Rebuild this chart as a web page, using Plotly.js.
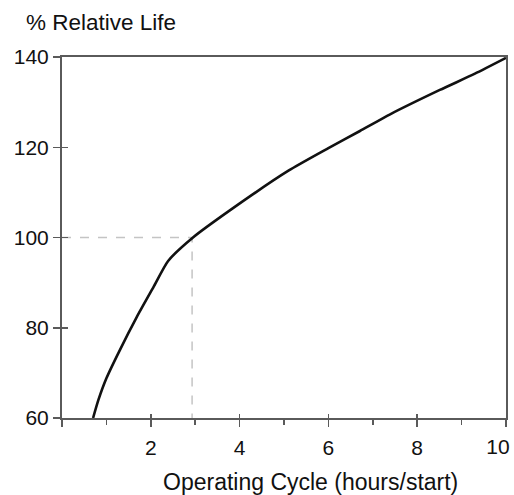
<!DOCTYPE html>
<html>
<head>
<meta charset="utf-8">
<script src="https://cdn.plot.ly/plotly-3.0.1.min.js"></script>
<style>html,body{margin:0;padding:0;background:#fff;}</style>
</head>
<body>
<div id="chart" style="width:514px;height:495px;"></div>
<script>
// Curve: operating cycle (hours/start) vs % relative life
const cycleHours = [0.70, 0.82, 1.00, 1.30, 1.68, 2.06, 2.39, 2.95, 3.78, 5.10, 6.00, 6.71, 7.39, 8.51, 9.30, 10.0];
const relativeLife = [60, 64.0, 68.8, 75.0, 82.3, 89.0, 94.8, 100, 106.0, 114.8, 119.8, 123.6, 127.3, 132.7, 136.3, 139.8];
// Reference (dashed) lines
const refX = [0, 2.93, 2.93];
const refY = [100, 100, 60];
const xTickVals = [0, 2, 4, 6, 8, 10];
const xTickText = ["", "2", "4", "6", "8", "10"];
const xMinorVals = [1, 3, 5, 7, 9];
const yTickVals = [60, 80, 100, 120, 140];
const yTickText = ["60", "80", "100", "120", "140"];

const FONT = "Liberation Sans, Arial, Helvetica, sans-serif";
const AXC = "#5a5a5a";
const last = xTickVals.length - 1;
// main axis shows all tick marks; the edge label is drawn by an overlay axis nudged inward
const mainText = xTickText.map((t, i) => i === last ? "" : t);

const traces = [
  {x: refX, y: refY, mode: "lines", line: {color: "#c4c4c4", width: 1.5, dash: "dash"}, hoverinfo: "skip", showlegend: false},
  {x: cycleHours, y: relativeLife, mode: "lines", line: {color: "#111", width: 2.6, shape: "spline", smoothing: 0.6}, showlegend: false},
  {x: [xTickVals[0]], y: [yTickVals[0]], xaxis: "x2", yaxis: "y2", mode: "markers", marker: {opacity: 0}, hoverinfo: "skip", showlegend: false},
  {x: [xTickVals[0]], y: [yTickVals[0]], xaxis: "x3", yaxis: "y2", mode: "markers", marker: {opacity: 0}, hoverinfo: "skip", showlegend: false}
];

const layout = {
  width: 514, height: 495,
  margin: {l: 62, r: 8, t: 57, b: 77},
  paper_bgcolor: "#fff", plot_bgcolor: "#fff",
  font: {family: FONT, size: 21, color: "#111"},
  showlegend: false,
  xaxis: {
    range: [0, 10], tickvals: xTickVals, ticktext: mainText,
    ticks: "outside", ticklen: 7, tickwidth: 1.5, tickcolor: AXC,
    minor: {tickvals: xMinorVals, ticks: "outside", ticklen: 5, tickwidth: 1.5, tickcolor: AXC},
    showline: true, linecolor: AXC, linewidth: 2, mirror: true,
    showgrid: false, zeroline: false, ticklabelstandoff: 3,
    tickfont: {family: FONT, size: 21, color: "#111"}
  },
  yaxis: {
    range: [60, 140], tickvals: yTickVals, ticktext: yTickText,
    ticks: "outside", ticklen: 7, tickwidth: 1.5, tickcolor: AXC,
    showline: true, linecolor: AXC, linewidth: 2, mirror: true,
    showgrid: false, zeroline: false, ticklabelstandoff: 0, ticklabeloverflow: "allow",
    tickfont: {family: FONT, size: 21, color: "#111"}
  },
  xaxis2: {
    overlaying: "x", range: [0, 10], tickvals: xTickVals, showticklabels: false,
    ticks: "inside", ticklen: 4, tickwidth: 1.5, tickcolor: AXC, side: "bottom",
    showgrid: false, zeroline: false, showline: false
  },
  xaxis3: {
    overlaying: "x", range: [0, 10], tickvals: [xTickVals[last]], ticktext: [xTickText[last]],
    ticks: "outside", ticklen: 7, tickwidth: 0.1, tickcolor: "rgba(0,0,0,0)", side: "bottom",
    ticklabelstandoff: 3, ticklabelshift: -8, ticklabeloverflow: "allow",
    tickfont: {family: FONT, size: 21, color: "#111"},
    showgrid: false, zeroline: false, showline: false
  },
  yaxis2: {
    overlaying: "y", range: [60, 140], tickvals: yTickVals, showticklabels: false,
    ticks: "inside", ticklen: 6, tickwidth: 1.5, tickcolor: AXC, side: "left",
    showgrid: false, zeroline: false, showline: false
  },
  annotations: [
    {text: "% Relative Life", xref: "paper", yref: "paper", x: 0, xshift: -38, y: 1.0, yshift: 35,
     xanchor: "left", yanchor: "middle", showarrow: false, font: {family: FONT, size: 22.5, color: "#111"}},
    {text: "Operating Cycle (hours/start)", xref: "paper", yref: "paper", x: 0.5586, y: 0, yshift: -64,
     xanchor: "center", yanchor: "middle", showarrow: false, font: {family: FONT, size: 23, color: "#111"}}
  ]
};

Plotly.newPlot("chart", traces, layout, {displayModeBar: false, staticPlot: true});
</script>
</body>
</html>
